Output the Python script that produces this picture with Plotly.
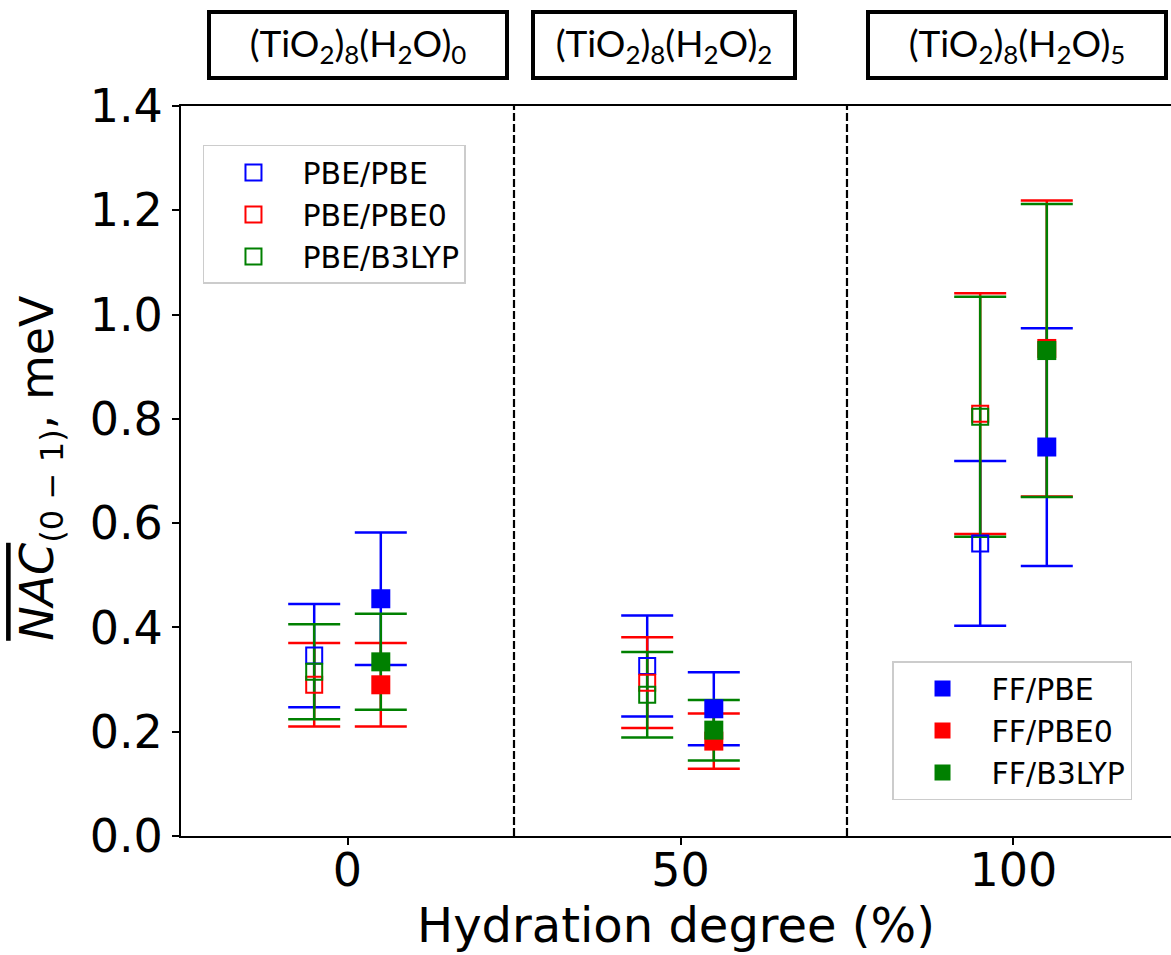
import plotly.graph_objects as go

# ---------------- data ----------------
hydration = [0, 50, 100]
cluster_labels = ["(TiO<sub>2</sub>)<sub>8</sub>(H<sub>2</sub>O)<sub>0</sub>",
                  "(TiO<sub>2</sub>)<sub>8</sub>(H<sub>2</sub>O)<sub>2</sub>",
                  "(TiO<sub>2</sub>)<sub>8</sub>(H<sub>2</sub>O)<sub>5</sub>"]

pbe_pbe = [0.346, 0.326, 0.561]
pbe_pbe_err = [0.099, 0.097, 0.158]
pbe_pbe0 = [0.290, 0.294, 0.810]
pbe_pbe0_err = [0.080, 0.087, 0.231]
pbe_b3lyp = [0.315, 0.271, 0.804]
pbe_b3lyp_err = [0.091, 0.082, 0.230]

ff_pbe = [0.455, 0.244, 0.746]
ff_pbe_err = [0.127, 0.070, 0.228]
ff_pbe0 = [0.290, 0.182, 0.935]
ff_pbe0_err = [0.080, 0.053, 0.284]
ff_b3lyp = [0.334, 0.203, 0.931]
ff_b3lyp_err = [0.092, 0.058, 0.281]

y_ticks = [0.0, 0.2, 0.4, 0.6, 0.8, 1.0, 1.2, 1.4]

# ---------------- styling ----------------
BLUE, RED, GREEN = "#0000ff", "#ff0000", "#008000"
OFFSET = 5
FONT = "DejaVu Sans"

open_series = [("PBE/PBE", pbe_pbe, pbe_pbe_err, BLUE),
               ("PBE/PBE0", pbe_pbe0, pbe_pbe0_err, RED),
               ("PBE/B3LYP", pbe_b3lyp, pbe_b3lyp_err, GREEN)]
filled_series = [("FF/PBE", ff_pbe, ff_pbe_err, BLUE),
                 ("FF/PBE0", ff_pbe0, ff_pbe0_err, RED),
                 ("FF/B3LYP", ff_b3lyp, ff_b3lyp_err, GREEN)]

fig = go.Figure()

x_open = [h - OFFSET for h in hydration]
x_filled = [h + OFFSET for h in hydration]

# error bars first (drawn beneath all markers)
for xs, series in ((x_open, open_series), (x_filled, filled_series)):
    for name, vals, errs, col in series:
        fig.add_trace(go.Scatter(
            x=xs, y=vals, mode="markers", showlegend=False, hoverinfo="skip",
            marker=dict(size=1, color="rgba(0,0,0,0)"),
            error_y=dict(type="data", array=errs, visible=True, color=col,
                         thickness=2.5, width=26)))

# markers
for name, vals, errs, col in open_series:
    fig.add_trace(go.Scatter(
        x=x_open, y=vals, mode="markers", name=name, legend="legend",
        marker=dict(symbol="square-open", size=16, color=col,
                    line=dict(width=2, color=col))))
for name, vals, errs, col in filled_series:
    fig.add_trace(go.Scatter(
        x=x_filled, y=vals, mode="markers", name=name, legend="legend2",
        marker=dict(symbol="square", size=19, color=col)))

# dashed separators between hydration groups
for a, b in zip(hydration[:-1], hydration[1:]):
    fig.add_shape(type="line", x0=(a + b) / 2, x1=(a + b) / 2, xref="x",
                  y0=0, y1=1, yref="paper",
                  line=dict(color="black", width=2.2, dash="8px,3px"))

# cluster title boxes
box_x = [0.1788, 0.4879, 0.8444]
box_w = [294, 258, 294]
for lab, bx, bw in zip(cluster_labels, box_x, box_w):
    fig.add_annotation(text=lab, xref="paper", yref="paper", x=bx, y=1.0836,
                       xanchor="center", yanchor="middle", showarrow=False,
                       width=bw, height=62, borderwidth=4, borderpad=0,
                       bordercolor="black", bgcolor="white",
                       font=dict(family="Lato", size=37, color="black"))

# y axis title
fig.add_annotation(
    text="<span style='text-decoration:overline'><i>NAC</i></span><sub>(0 \u2212 1)</sub>, meV",
    xref="paper", yref="paper", x=-0.142, y=0.505, textangle=-90,
    showarrow=False, xanchor="center", yanchor="middle",
    font=dict(family=FONT, size=46, color="black"))

legend_style = dict(xanchor="left", yanchor="top", bgcolor="white",
                    bordercolor="#cccccc", borderwidth=1.5, itemwidth=88,
                    font=dict(family=FONT, size=30, color="black"))

fig.update_layout(
    width=1171, height=955,
    margin=dict(l=181, r=0, t=106, b=119),
    paper_bgcolor="white", plot_bgcolor="white",
    font=dict(family=FONT, color="black"),
    legend=dict(x=0.0222, y=0.9466, **legend_style),
    legend2=dict(x=0.7182, y=0.2397, **legend_style),
    xaxis=dict(range=[-25, 123.65], tickvals=hydration,
               ticktext=[str(h) for h in hydration],
               showline=True, linecolor="black", linewidth=2, mirror=True,
               ticks="outside", ticklen=7, tickwidth=2, tickcolor="black",
               ticklabelstandoff=-14,
               showgrid=False, zeroline=False,
               tickfont=dict(family=FONT, size=46),
               title=dict(text="Hydration degree (%)", standoff=4,
                          font=dict(family=FONT, size=48))),
    yaxis=dict(range=[0, 1.4], tickvals=y_ticks, tickformat=".1f",
               showline=True, linecolor="black", linewidth=2,
               ticks="outside", ticklen=7, tickwidth=2, tickcolor="black",
               showgrid=False, zeroline=False,
               tickfont=dict(family=FONT, size=46)),
)

fig.write_html("out.html")
